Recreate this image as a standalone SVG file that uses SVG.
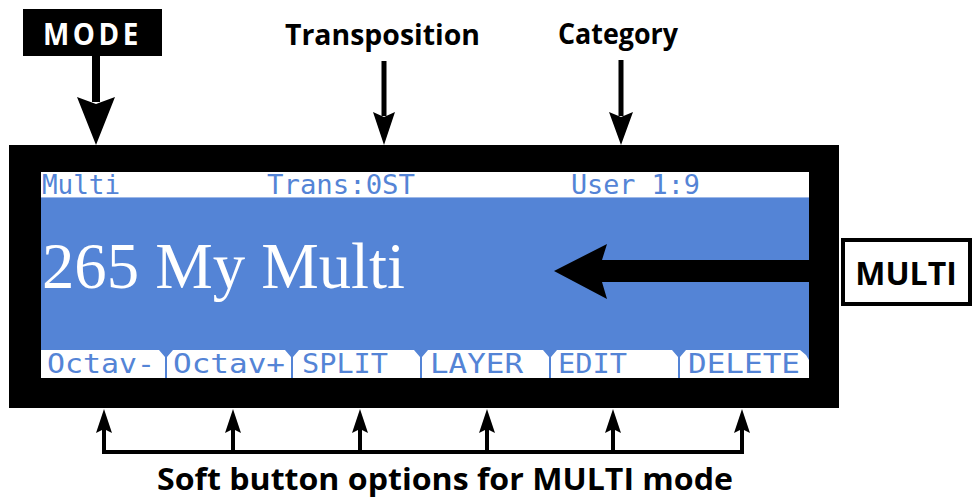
<svg xmlns="http://www.w3.org/2000/svg" width="975" height="499" viewBox="0 0 975 499">
  <style>
    .lbl { font-family: "Open Sans", "Liberation Sans", sans-serif; font-weight: bold; fill: #000; }
    .lcd { font-family: "DejaVu Sans Mono", "Liberation Mono", monospace; fill: #5484d6; font-size: 27px; }
    .blue { fill: #5484d6; }
    .arr { fill: #000; }
  </style>
  <rect width="975" height="499" fill="#fff"/>

  <g id="display">
    <rect x="9" y="145" width="830" height="263" fill="#000"/>
    <rect x="41" y="172" width="768" height="206" fill="#fff"/>
    <rect x="41" y="197" width="768" height="153" class="blue"/>
    <line x1="41" y1="197.5" x2="809" y2="197.5" stroke="#9db8e8" stroke-width="1"/>
    <g id="status-bar">
      <text class="lcd" x="42" y="194" textLength="78" lengthAdjust="spacingAndGlyphs">Multi</text>
      <text class="lcd" x="267" y="194" textLength="148" lengthAdjust="spacingAndGlyphs">Trans:0ST</text>
      <text class="lcd" x="571" y="194" textLength="129" lengthAdjust="spacingAndGlyphs">User 1:9</text>
    </g>
    <text x="42" y="288" font-family="'Liberation Serif', 'DejaVu Serif', serif" font-size="66" fill="#fff" textLength="363" lengthAdjust="spacingAndGlyphs">265 My Multi</text>
    <g id="soft-bar">
      <g class="blue">
        <polygon points="159,350 173,350 167,357 167,378 165,378 165,357"/>
        <polygon points="285,350 299,350 293,357 293,378 291,378 291,357"/>
        <polygon points="414,350 428,350 422,357 422,378 420,378 420,357"/>
        <polygon points="543,350 557,350 551,357 551,378 549,378 549,357"/>
        <polygon points="672,350 686,350 680,357 680,378 678,378 678,357"/>
        <polygon points="800,350 809,350 809,360 806,355"/>
      </g>
      <text class="lcd" x="47" y="373" textLength="108" lengthAdjust="spacingAndGlyphs">Octav-</text>
      <text class="lcd" x="173" y="373" textLength="112" lengthAdjust="spacingAndGlyphs">Octav+</text>
      <text class="lcd" x="302" y="373" textLength="86" lengthAdjust="spacingAndGlyphs">SPLIT</text>
      <text class="lcd" x="430" y="373" textLength="93" lengthAdjust="spacingAndGlyphs">LAYER</text>
      <text class="lcd" x="558" y="373" textLength="69" lengthAdjust="spacingAndGlyphs">EDIT</text>
      <text class="lcd" x="688" y="373" textLength="112" lengthAdjust="spacingAndGlyphs">DELETE</text>
    </g>
  </g>

  <g id="mode">
    <rect x="23" y="9" width="139" height="47" fill="#000"/>
    <text class="lbl" x="43" y="45" font-size="31" style="fill:#fff" letter-spacing="4" textLength="99" lengthAdjust="spacingAndGlyphs">MODE</text>
  </g>

  <g id="transposition">
    <text class="lbl" x="285" y="45" font-size="28" textLength="195" lengthAdjust="spacingAndGlyphs">Transposition</text>
  </g>

  <g id="category">
    <text class="lbl" x="558" y="44" font-size="28" textLength="120" lengthAdjust="spacingAndGlyphs">Category</text>
  </g>

  <g id="multi">
    <rect x="843" y="240" width="127" height="64" fill="#fff" stroke="#000" stroke-width="4"/>
    <text class="lbl" x="906" y="285" font-size="32" text-anchor="middle">MULTI</text>
  </g>

  <g id="soft-label">
    <text class="lbl" x="157" y="490" font-size="30" textLength="576" lengthAdjust="spacingAndGlyphs">Soft button options for MULTI mode</text>
  </g>

  <g id="connectors">
    <rect class="arr" x="92" y="56" width="8" height="46"/>
    <polygon class="arr" points="77,97 96,104 115,97 96,145"/>
    <rect class="arr" x="381.5" y="61" width="5" height="55"/>
    <polygon class="arr" points="373,112 384,117 395,112 384,145"/>
    <rect class="arr" x="618.5" y="60" width="5" height="56"/>
    <polygon class="arr" points="609,112 621,117 633,112 621,145"/>
    <polygon class="arr" points="554,271 607,244 602,260 810,260 810,282 602,282 607,299"/>
    <polyline points="104,428 104,452 742,452 742,428" fill="none" stroke="#000" stroke-width="4"/>
    <g stroke="#000" stroke-width="4">
      <line x1="233" y1="428" x2="233" y2="452"/>
      <line x1="360" y1="428" x2="360" y2="452"/>
      <line x1="487" y1="428" x2="487" y2="452"/>
      <line x1="613" y1="428" x2="613" y2="452"/>
    </g>
    <g class="arr">
      <polygon points="104,409 112,433 104,429 96,433"/>
      <polygon points="233,409 241,433 233,429 225,433"/>
      <polygon points="360,409 368,433 360,429 352,433"/>
      <polygon points="487,409 495,433 487,429 479,433"/>
      <polygon points="613,409 621,433 613,429 605,433"/>
      <polygon points="742,409 750,433 742,429 734,433"/>
    </g>
  </g>
</svg>
